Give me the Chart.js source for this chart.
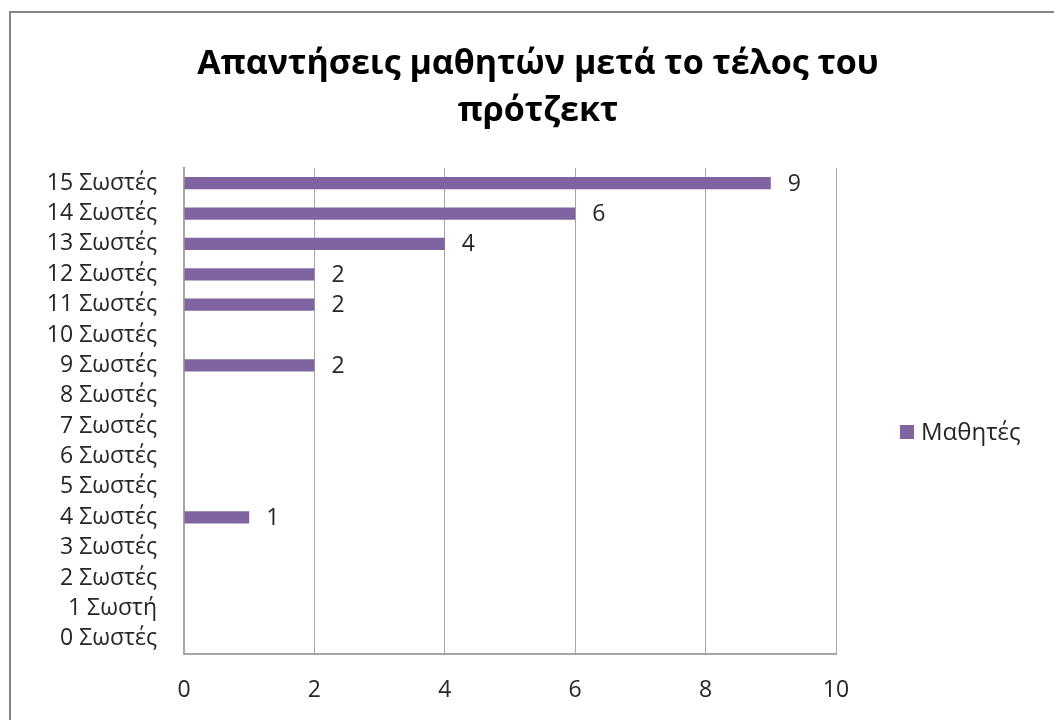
<!DOCTYPE html>
<html>
<head>
<meta charset="utf-8">
<script src="https://cdn.jsdelivr.net/npm/chart.js@4"></script>
<style>
  html, body { margin: 0; padding: 0; background: #fff; overflow: hidden; }
  #wrap { position: relative; width: 1054px; height: 720px; }
  #frame { position: absolute; left: 9px; top: 11px; width: 1100px; height: 800px; border: 2px solid #868686; box-sizing: border-box; pointer-events: none; }
  canvas { position: absolute; left: 0; top: 0; }
</style>
</head>
<body>
<div id="wrap">
  <canvas id="chart" width="1054" height="720"></canvas>
  <div id="frame"></div>
</div>
<script>
// data, bottom category first (axis is reversed so 15 sits on top)
const categories = ['0 Σωστές', '1 Σωστή', '2 Σωστές', '3 Σωστές', '4 Σωστές', '5 Σωστές',
  '6 Σωστές', '7 Σωστές', '8 Σωστές', '9 Σωστές', '10 Σωστές', '11 Σωστές',
  '12 Σωστές', '13 Σωστές', '14 Σωστές', '15 Σωστές'];
const students = [0, 0, 0, 0, 1, 0, 0, 0, 0, 2, 0, 2, 2, 4, 6, 9];
const xTicks = [0, 2, 4, 6, 8, 10];
const seriesName = 'Μαθητές';
const titleLines = ['Απαντήσεις μαθητών μετά το τέλος του', 'πρότζεκτ'];

const FONT = "'Open Sans', 'Noto Sans', sans-serif";
const INK = '#262626';
const PURPLE = '#8064A2';
const GRID = '#A6A6A6';

// title, legend and value labels, drawn the way Excel places them
const decorations = {
  id: 'decorations',
  afterDraw(chart) {
    const { ctx } = chart;
    ctx.save();

    ctx.fillStyle = '#000';
    ctx.textAlign = 'center';
    ctx.textBaseline = 'alphabetic';
    ctx.font = `bold 34px ${FONT}`;
    ctx.fillText(titleLines[0], 538, 74);
    ctx.fillText(titleLines[1], 538, 121);

    ctx.fillStyle = PURPLE;
    ctx.fillRect(900, 425, 14, 14);
    ctx.fillStyle = INK;
    ctx.textAlign = 'left';
    ctx.textBaseline = 'middle';
    ctx.font = `24px ${FONT}`;
    ctx.fillText(seriesName, 921, 433);

    ctx.font = `23px ${FONT}`;
    const meta = chart.getDatasetMeta(0);
    meta.data.forEach((bar, i) => {
      const v = students[i];
      if (!v) return;
      ctx.fillText(String(v), bar.x + 17, bar.y + 1);
    });
    ctx.restore();
  },
};

new Chart(document.getElementById('chart'), {
  type: 'bar',
  data: {
    labels: categories,
    datasets: [{
      label: seriesName,
      data: students,
      backgroundColor: PURPLE,
      borderWidth: 0,
      categoryPercentage: 1,
      barPercentage: 0.4,
    }],
  },
  options: {
    indexAxis: 'y',
    responsive: false,
    animation: false,
    events: [],
    layout: { padding: { left: 10, right: 218, top: 168, bottom: 0 } },
    plugins: {
      title: { display: false },
      legend: { display: false },
      tooltip: { enabled: false },
    },
    scales: {
      x: {
        min: 0,
        max: 10,
        afterBuildTicks: (s) => { s.ticks = xTicks.map((v) => ({ value: v })); },
        afterFit: (s) => { s.height = 66; },
        grid: { color: GRID, lineWidth: 1, drawTicks: false },
        border: { color: GRID, width: 2 },
        ticks: { color: INK, font: { family: FONT, size: 23 }, padding: 23 },
      },
      y: {
        reverse: true,
        afterFit: (s) => { s.width = 174; },
        grid: { display: false, drawTicks: false },
        border: { display: true, color: GRID, width: 2 },
        ticks: { color: INK, font: { family: FONT, size: 23 }, padding: 27, autoSkip: false },
      },
    },
  },
  plugins: [decorations],
});
</script>
</body>
</html>
